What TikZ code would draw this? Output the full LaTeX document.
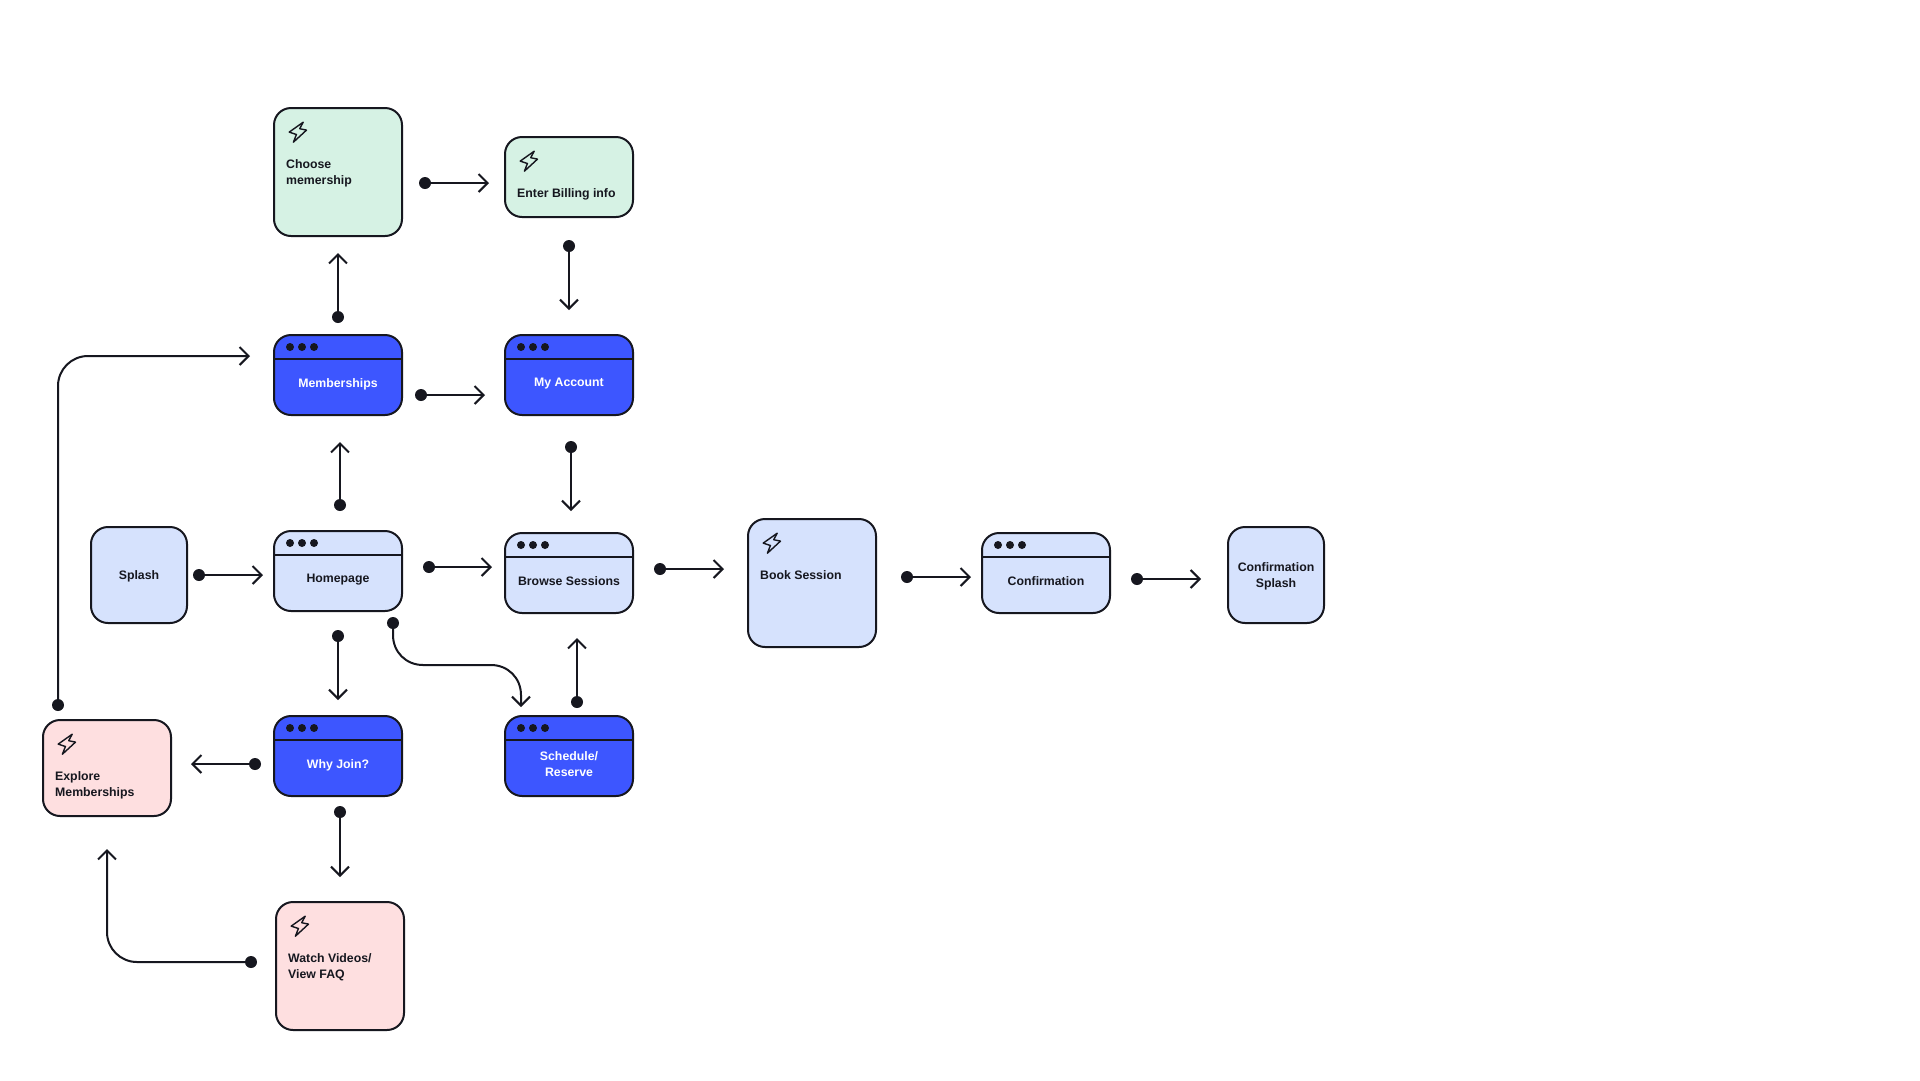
\documentclass[tikz,border=0pt]{standalone}
\usepackage{fontspec}
\setmainfont{Liberation Sans}
\usetikzlibrary{arrows.meta}
\definecolor{ink}{HTML}{16171F}
\definecolor{paleblue}{HTML}{D6E2FD}
\definecolor{strongblue}{HTML}{3D56FF}
\definecolor{palegreen}{HTML}{D6F2E4}
\definecolor{palepink}{HTML}{FEDFE0}
\newcommand{\lbl}{\fontsize{12.3}{16}\selectfont\bfseries}
\tikzset{
  x=1pt,y=-1pt,
  card/.style={draw=ink,line width=2pt,rounded corners=17pt,inner sep=0pt,outer sep=0pt,minimum width=#1},
  card/.default=128pt,
  txt/.style={font=\lbl,text=ink,inner sep=0pt,align=center},
  txtl/.style={font=\lbl,text=ink,inner sep=0pt,align=left,anchor=west},
  wtxt/.style={font=\lbl,text=white,inner sep=0pt,align=center},
  dot/.style={circle,fill=ink,inner sep=0pt,minimum size=12pt},
  winDot/.style={circle,fill=ink,inner sep=0pt,minimum size=8pt},
  link/.style={draw=ink,line width=2pt,-{Straight Barb[length=9pt,width=18pt,line width=2pt]}},
  bolt/.style={draw=ink,line width=1.4pt,line join=round,fill=none},
}
\newcommand{\cardbox}[6]{\path[card,fill=#6] (#2,#3) rectangle (#4,#5);
  \coordinate (#1) at ({(#2+#4)/2},{(#3+#5)/2});}
\newcommand{\win}[4]{\cardbox{#1}{#2}{#3}{#2+128}{#3+80}{#4}
  \draw[ink,line width=2pt] (#2,#3+24) -- (#2+128,#3+24);
  \node[winDot] at (#2+16,#3+12) {};
  \node[winDot] at (#2+28,#3+12) {};
  \node[winDot] at (#2+40,#3+12) {};}
\newcommand{\boltat}[2]{\draw[bolt,shift={(#1,#2)}]
  (14.7,0.7) -- (0.7,10.6) -- (7.9,13) -- (4.9,20.7) -- (18,8.6) -- (11.2,7.2) -- cycle;}
\begin{document}
\begin{tikzpicture}
\useasboundingbox (0,0) rectangle (1920,1080);
\fill[white] (0,0) rectangle (1920,1080);

\cardbox{choose}{274}{108}{402}{236}{palegreen}
\cardbox{billing}{505}{137}{633}{217}{palegreen}
\win{memberships}{274}{335}{strongblue}
\win{account}{505}{335}{strongblue}
\cardbox{splash}{91}{527}{187}{623}{paleblue}
\win{home}{274}{531}{paleblue}
\win{browse}{505}{533}{paleblue}
\cardbox{book}{748}{519}{876}{647}{paleblue}
\win{confirm}{982}{533}{paleblue}
\cardbox{confsplash}{1228}{527}{1324}{623}{paleblue}
\win{why}{274}{716}{strongblue}
\win{schedule}{505}{716}{strongblue}
\cardbox{explore}{43}{720}{171}{816}{palepink}
\cardbox{watch}{276}{902}{404}{1030}{palepink}

\boltat{288.5}{121.5}
\boltat{519.5}{150.5}
\boltat{762.5}{532.5}
\boltat{57.5}{733.5}
\boltat{290.5}{915.5}

\node[txtl] (tChoose) at (286,173) {Choose\\memership};
\node[txtl] (tBilling) at (517,194) {Enter Billing info};
\node[wtxt] (tMemberships) at (338,384) {Memberships};
\node[wtxt] (tAccount) at (569,384) {My Account};
\node[txt] (tSplash) at (139,576) {Splash};
\node[txt] (tHome) at (338,580) {Homepage};
\node[txt] (tBrowse) at (569,581) {Browse Sessions};
\node[txtl] (tBook) at (760,575) {Book Session};
\node[txt] (tConfirm) at (1046,581) {Confirmation};
\node[txt] (tConfSplash) at (1276,576) {Confirmation\\Splash};
\node[wtxt] (tWhy) at (338,765) {Why Join?};
\node[wtxt] (tSchedule) at (569,764) {Schedule/\\Reserve};
\node[txtl] (tExplore) at (55,785) {Explore\\Memberships};
\node[txtl] (tWatch) at (288,967) {Watch Videos/\\View FAQ};

\foreach \n/\x/\y in {
  a/425/183, b/569/246, c/338/317, d/421/395, e/340/505, f/571/447,
  g/199/575, h/429/567, i/660/569, j/907/577, k/1137/579, l/338/636,
  m/393/623, n/577/702, o/255/764, p/340/812, q/251/962, r/58/705}
  {\node[dot] (dot\n) at (\x,\y) {};}
\foreach \n/\x/\y in {
  a/489/183, b/569/310, c/338/253, d/485/395, e/340/442, f/571/511,
  g/263/575, h/492/567, i/724/569, j/971/577, k/1201/579, l/338/700,
  m/521/707, n/577/638, o/191/764, p/340/877, q/107/849, r/250/356}
  {\coordinate (end\n) at (\x,\y);}

\foreach \n in {a,b,c,d,e,f,g,h,i,j,k,l,n,o,p}
  {\draw[link] (dot\n.center) -- (end\n);}
\draw[link,rounded corners=30pt] (dotq.center) -| (endq);
\draw[link,rounded corners=30pt] (dotr.center) |- (endr);
\draw[link] (dotm.center) -- (393,635) .. controls (393,652) and (406,665) .. (423,665)
  -- (491,665) .. controls (508,665) and (521,678) .. (521,695) -- (endm);
\end{tikzpicture}
\end{document}
